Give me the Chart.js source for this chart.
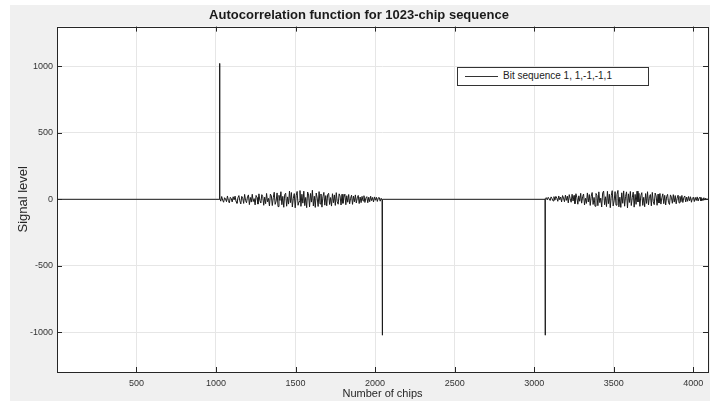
<!DOCTYPE html>
<html>
<head>
<meta charset="utf-8">
<title>Autocorrelation</title>
<script src="https://cdn.jsdelivr.net/npm/chart.js@4.4.1/dist/chart.umd.min.js"></script>
<style>
    html, body { margin: 0; padding: 0; background: #ffffff; }
    #fondo { position: absolute; left: 10px; top: 5px; width: 700px; height: 396px; background: #f0f0f0; }
    #caja { position: absolute; left: 0; top: 0; width: 710px; height: 401px; }
    #leyenda {
        position: absolute; left: 457px; top: 67px; width: 190px; height: 17px;
        background: #ffffff; border: 1px solid #333333;
        font: 10px "Liberation Sans", Arial, sans-serif; color: #222222;
    }
    #leyenda .muestra { position: absolute; left: 7px; top: 8px; width: 33px; height: 0; border-top: 1px solid #333333; }
    #leyenda .texto { position: absolute; left: 45px; top: 2px; white-space: nowrap; }
</style>
</head>
<body>
<div id="fondo"></div>
<div id="caja"><canvas id="grafica" width="710" height="401"></canvas></div>
<div id="leyenda"><span class="muestra"></span><span class="texto">Bit sequence 1, 1,-1,-1,1</span></div>

<script>
// picos de la autocorrelacion (chip, valor)
const picos = [[1023, 1023], [2046, -1023], [3069, -1023]];
const paso = 6;          // separacion entre muestras de ruido, en chips
const inicioA = 1024;
const inicioB = 3070;
const ultimoChip = 4092;

// lobulos laterales entre 1024 y 2044
const ruidoA = [
    8, -14, 21, -6, -22, 12, 3, -18, 25, -9,
    -27, 15, 6, -20, 19, -4, 24, -16, -30, 11,
    28, -12, -35, 22, 9, -31, 37, -8, -26, 18,
    33, -40, 14, -21, 38, -17, 5, -42, 29, 13,
    -36, 41, -10, -28, 35, 20, -45, 16, -33, 44,
    -19, 7, -50, 39, 26, -47, 12, 53, -38, -14,
    48, -55, 30, -9, 57, -41, 22, -60, 35, 46,
    -52, 18, -36, 62, -25, 51, -58, 8, 43, -64,
    27, 59, -45, -17, 66, -53, 38, -29, 61, -48,
    14, -63, 55, 32, -57, 44, -21, 68, -50, 23,
    -61, 47, 10, -54, 58, -35, 40, -59, 19, 52,
    -44, 28, -49, 36, 45, -39, 13, -51, 42, -26,
    33, -46, 50, -18, -37, 41, 24, -43, 38, -30,
    15, 39, -41, 27, -22, 36, -34, 8, 31, -38,
    24, -19, 33, -28, 11, 29, -32, 17, -25, 22,
    -12, 27, -24, 9, 20, -26, 16, -18, 23, -10,
    14, -20, 18, -7, 15, -16, 11, 13, -14, 8, -6
];

// lobulos laterales entre 3070 y 4090
const ruidoB = [
    6, 12, -4, 15, 3, -9, 18, 5, -12, 20,
    -6, 22, 9, -15, 25, -3, 17, -20, 28, 10,
    -18, 31, -8, 24, -27, 35, 4, -22, 38, -13,
    29, -33, 42, 11, -37, 26, -15, 45, -29, 19,
    40, -43, 8, -31, 48, -20, 36, -46, 23, 51,
    -39, 14, -52, 44, 30, -48, 56, -25, 9, -58,
    47, 62, -41, 19, -55, 60, -33, 38, -63, 27,
    65, -50, -12, 58, -44, 35, 67, -57, 16, -61,
    49, -30, 63, -52, 22, 56, -65, 41, -24, 59,
    -47, 12, 54, -59, 37, -38, 61, -20, 45, -53,
    28, 50, -46, 15, -56, 43, -31, 57, -42, 21,
    36, -49, 52, -17, -40, 47, 25, -45, 39, -28,
    44, -36, 11, 41, -33, 30, -43, 20, 37, -25,
    -39, 33, 16, -30, 35, -21, 28, -34, 9, 31,
    -27, 22, -18, 29, -24, 13, 25, -20, 17, -15,
    21, -11, 19, -22, 8, 16, -17, 14, -9, 18,
    -13, 10, 15, -12, 7, -10, 12, -6, 9, -5, 4
];

const ticksX = [500, 1000, 1500, 2000, 2500, 3000, 3500, 4000];
const ticksY = [-1000, -500, 0, 500, 1000];

// armar la serie completa
const puntos = [];
puntos.push({ x: 1, y: 0 });
puntos.push({ x: picos[0][0] - 1, y: 0 });
puntos.push({ x: picos[0][0], y: picos[0][1] });
ruidoA.forEach((v, i) => puntos.push({ x: inicioA + i * paso, y: v }));
puntos.push({ x: picos[1][0] - 1, y: 0 });
puntos.push({ x: picos[1][0], y: picos[1][1] });
puntos.push({ x: picos[1][0] + 1, y: 0 });
puntos.push({ x: picos[2][0] - 1, y: 0 });
puntos.push({ x: picos[2][0], y: picos[2][1] });
ruidoB.forEach((v, i) => puntos.push({ x: inicioB + i * paso, y: v }));
puntos.push({ x: ultimoChip, y: 0 });

const fuente = '"Liberation Sans", Arial, sans-serif';

// fondo blanco del area de trazado
const areaBlanca = {
    id: 'areaBlanca',
    beforeDraw(chart) {
        const { ctx, chartArea: a } = chart;
        ctx.save();
        ctx.fillStyle = '#ffffff';
        ctx.fillRect(a.left, a.top, a.right - a.left, a.bottom - a.top);
        ctx.restore();
    }
};

// marco y marcas hacia adentro, estilo matlab
const marco = {
    id: 'marco',
    afterDraw(chart) {
        const { ctx, chartArea: a, scales } = chart;
        const largo = 5;
        ctx.save();
        ctx.strokeStyle = '#262626';
        ctx.lineWidth = 1;
        ctx.beginPath();
        ticksX.forEach(t => {
            const px = Math.round(scales.x.getPixelForValue(t)) + 0.5;
            ctx.moveTo(px, a.bottom); ctx.lineTo(px, a.bottom - largo);
            ctx.moveTo(px, a.top); ctx.lineTo(px, a.top + largo);
        });
        ticksY.forEach(t => {
            const py = Math.round(scales.y.getPixelForValue(t)) + 0.5;
            ctx.moveTo(a.left, py); ctx.lineTo(a.left + largo, py);
            ctx.moveTo(a.right, py); ctx.lineTo(a.right - largo, py);
        });
        ctx.stroke();
        ctx.strokeRect(Math.round(a.left) + 0.5, Math.round(a.top) + 0.5,
            Math.round(a.right - a.left), Math.round(a.bottom - a.top));
        ctx.restore();
    }
};

const ctx = document.getElementById('grafica').getContext('2d');
new Chart(ctx, {
    type: 'line',
    data: {
        datasets: [{
            label: 'Bit sequence 1, 1,-1,-1,1',
            data: puntos,
            borderColor: '#1a1a1a',
            borderWidth: 1,
            pointRadius: 0,
            tension: 0,
            fill: false
        }]
    },
    options: {
        responsive: false,
        animation: false,
        parsing: false,
        layout: { padding: { left: 10, right: 2, top: 0, bottom: 0 } },
        plugins: {
            legend: { display: false },
            tooltip: { enabled: false },
            title: {
                display: true,
                text: 'Autocorrelation function for 1023-chip sequence',
                color: '#1a1a1a',
                font: { family: fuente, size: 13, weight: 'bold', lineHeight: 1.2 },
                padding: { top: 8, bottom: 3 }
            }
        },
        scales: {
            x: {
                type: 'linear',
                min: 1,
                max: ultimoChip,
                afterBuildTicks: s => { s.ticks = ticksX.map(v => ({ value: v })); },
                afterFit: s => { s.height = 29; },
                grid: { color: '#e6e6e6', drawTicks: false },
                border: { display: false },
                ticks: { color: '#333333', font: { family: fuente, size: 9 }, padding: 6, maxRotation: 0,
                         callback: v => String(v) },
                title: {
                    display: true, text: 'Number of chips', color: '#262626',
                    font: { family: fuente, size: 11 }, padding: { top: 0, bottom: 0 }
                }
            },
            y: {
                min: -1300,
                max: 1300,
                afterBuildTicks: s => { s.ticks = ticksY.map(v => ({ value: v })); },
                afterFit: s => { s.width = 47; },
                grid: { color: '#e6e6e6', drawTicks: false },
                border: { display: false },
                ticks: { color: '#333333', font: { family: fuente, size: 9 }, padding: 4,
                         callback: v => String(v) },
                title: {
                    display: true, text: 'Signal level', color: '#262626',
                    font: { family: fuente, size: 13 }, padding: { top: 6, bottom: 0 }
                }
            }
        }
    },
    plugins: [areaBlanca, marco]
});
</script>
</body>
</html>
